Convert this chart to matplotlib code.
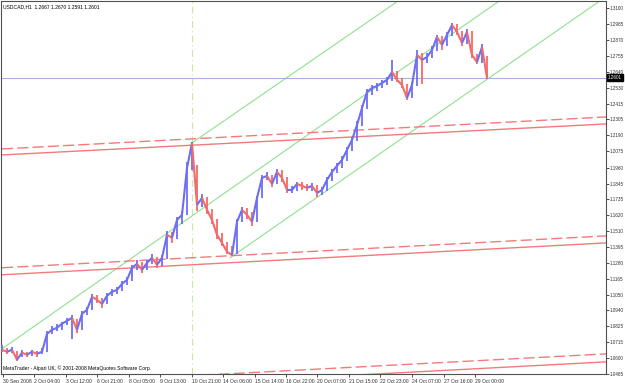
import matplotlib
matplotlib.use("Agg")
import matplotlib.pyplot as plt
import numpy as np

# ---- data ----
bar_step = 5
closes = [1.0658, 1.0644, 1.0658, 1.0587, 1.0637, 1.0622, 1.0644, 1.0629, 1.0644, 1.0772,
          1.0801, 1.0815, 1.0844, 1.0865, 1.0886, 1.0801, 1.0915, 1.0944, 1.1036, 1.1015,
          1.0986, 1.1044, 1.1072, 1.1086, 1.1129, 1.1158, 1.1243, 1.1272, 1.1229, 1.1279,
          1.1315, 1.1265, 1.1315, 1.1479, 1.1458, 1.1586, 1.1622, 1.1957, 1.2136, 1.1693,
          1.1743, 1.1658, 1.1586, 1.1479, 1.1422, 1.1358, 1.1336, 1.1572, 1.1658, 1.1622,
          1.1572, 1.1743, 1.1886, 1.1900, 1.1843, 1.1929, 1.1886, 1.1800, 1.1800, 1.1843,
          1.1829, 1.1815, 1.1829, 1.1779, 1.1800, 1.1872, 1.1929, 1.1972, 1.2015, 1.2086,
          1.2157, 1.2264, 1.2386, 1.2500, 1.2529, 1.2543, 1.2564, 1.2586, 1.2643, 1.2586,
          1.2550, 1.2457, 1.2550, 1.2764, 1.2729, 1.2750, 1.2800, 1.2893, 1.2836, 1.2907,
          1.2978, 1.2929, 1.2850, 1.2929, 1.2764, 1.2714, 1.2821, 1.2601]
highs = [1.0690, 1.0672, 1.0680, 1.0650, 1.0655, 1.0645, 1.0660, 1.0652, 1.0668, 1.0790,
         1.0825, 1.0840, 1.0860, 1.0885, 1.0905, 1.0880, 1.0935, 1.0965, 1.1060, 1.1050,
         1.1030, 1.1065, 1.1090, 1.1110, 1.1150, 1.1180, 1.1265, 1.1300, 1.1285, 1.1300,
         1.1340, 1.1320, 1.1335, 1.1510, 1.1500, 1.1610, 1.1650, 1.2000, 1.2140, 1.1980,
         1.1770, 1.1750, 1.1665, 1.1590, 1.1490, 1.1430, 1.1400, 1.1590, 1.1680, 1.1670,
         1.1640, 1.1760, 1.1910, 1.1930, 1.1905, 1.1950, 1.1940, 1.1890, 1.1830, 1.1860,
         1.1860, 1.1845, 1.1850, 1.1835, 1.1820, 1.1890, 1.1950, 1.1995, 1.2040, 1.2110,
         1.2180, 1.2290, 1.2410, 1.2520, 1.2550, 1.2565, 1.2585, 1.2610, 1.2729, 1.2650,
         1.2600, 1.2560, 1.2570, 1.2800, 1.2775, 1.2780, 1.2830, 1.2910, 1.2900, 1.2930,
         1.2993, 1.2985, 1.2935, 1.2950, 1.2935, 1.2770, 1.2840, 1.2760]
lows = [1.0640, 1.0630, 1.0636, 1.0575, 1.0610, 1.0605, 1.0615, 1.0610, 1.0625, 1.0640,
        1.0770, 1.0790, 1.0800, 1.0835, 1.0735, 1.0780, 1.0800, 1.0910, 1.0940, 1.0995,
        1.0960, 1.0985, 1.1040, 1.1060, 1.1080, 1.1120, 1.1150, 1.1230, 1.1210, 1.1225,
        1.1270, 1.1245, 1.1260, 1.1310, 1.1420, 1.1450, 1.1560, 1.1620, 1.1940, 1.1650,
        1.1680, 1.1630, 1.1560, 1.1450, 1.1400, 1.1340, 1.1330, 1.1340, 1.1570, 1.1590,
        1.1540, 1.1570, 1.1740, 1.1870, 1.1820, 1.1840, 1.1860, 1.1780, 1.1775, 1.1790,
        1.1800, 1.1790, 1.1795, 1.1750, 1.1765, 1.1795, 1.1865, 1.1920, 1.1960, 1.2010,
        1.2080, 1.2150, 1.2260, 1.2380, 1.2480, 1.2505, 1.2525, 1.2550, 1.2580, 1.2570,
        1.2530, 1.2443, 1.2455, 1.2545, 1.2560, 1.2710, 1.2740, 1.2790, 1.2800, 1.2830,
        1.2900, 1.2910, 1.2830, 1.2845, 1.2740, 1.2700, 1.2710, 1.2591]
bars = np.arange(len(closes)) * bar_step

current_price = 1.2601
separator_bar = 190

# trend lines: (bar0, price0, bar1, price1)
green_lines = [(0, 1.0665, 605, 1.3689),
               (190, 1.2136, 605, 1.4178),
               (228, 1.1315, 605, 1.3186)]
red_solid = [(0, 1.2050, 605, 1.2272),
             (0, 1.1194, 605, 1.1422),
             (0, 1.0344, 605, 1.0572)]
red_dashed = [(0, 1.2093, 605, 1.2322),
              (0, 1.1244, 605, 1.1472),
              (0, 1.0401, 605, 1.0629)]

y_ticks = [1.3100, 1.2985, 1.2870, 1.2755, 1.2640, 1.2530, 1.2415, 1.2305, 1.2190,
           1.2075, 1.1960, 1.1845, 1.1735, 1.1620, 1.1510, 1.1395, 1.1280, 1.1165,
           1.1050, 1.0940, 1.0825, 1.0715, 1.0600, 1.0485]
x_tick_pos = [1, 32, 64, 95, 127, 158, 190, 221, 253, 284, 315, 347, 378, 410, 442, 473]
x_tick_labels = ["30 Sep 2008", "2 Oct 04:00", "3 Oct 12:00", "6 Oct 21:00", "8 Oct 05:00",
                 "9 Oct 13:00", "10 Oct 21:00", "14 Oct 06:00", "15 Oct 14:00",
                 "16 Oct 22:00", "20 Oct 07:00", "21 Oct 15:00", "22 Oct 23:00",
                 "24 Oct 07:00", "27 Oct 16:00", "29 Oct 00:00"]

title_text = "USDCAD,H1  1.2667 1.2670 1.2591 1.2601"
copyright_text = "MetaTrader - Alpari UK, \u00a9 2001-2008 MetaQuotes Software Corp."

# ---- figure ----
W, H = 625, 383
fig = plt.figure(figsize=(W / 100, H / 100), dpi=100)
fig.patch.set_facecolor("white")
left_px, right_px, top_px, bot_px = 1, 606, 1, 374
ax = fig.add_axes([left_px / W, (H - bot_px) / H, (right_px - left_px) / W, (bot_px - top_px) / H])
ax.set_facecolor("white")
ax.set_xlim(-1, 604)
ax.set_ylim(1.04867, 1.31500)

FS = 3.6
YFS = 3.3
FONT = dict(family="Liberation Sans", size=FS)
YFONT = dict(family="Liberation Sans", size=YFS)
BLUE = "#6e6ef2"
RED = "#f26a6a"

for (x0, p0, x1, p1) in green_lines:
    ax.plot([x0, x1], [p0, p1], color="#8fe08f", lw=0.8, zorder=2)
for (x0, p0, x1, p1) in red_solid:
    ax.plot([x0, x1], [p0, p1], color="#f47a7a", lw=1.0, zorder=2)
for (x0, p0, x1, p1) in red_dashed:
    ax.plot([x0, x1], [p0, p1], color="#f47a7a", lw=1.0, ls=(0, (8, 3)), zorder=2)
ax.axhline(current_price, color="#a8b0e0", lw=0.8, zorder=2)
ax.axvline(separator_bar, color="#c8e8a0", lw=0.8, ls=(0, (6, 3, 1, 3)), zorder=1)

# price bars
for i in range(len(closes)):
    up = i == 0 or closes[i] >= closes[i - 1]
    col = BLUE if up else RED
    ax.vlines(bars[i], lows[i], highs[i], color=col, lw=1.3, zorder=3)
    if i > 0:
        ax.plot(bars[i - 1:i + 1], closes[i - 1:i + 1], color=col, lw=1.5,
                solid_capstyle="butt", zorder=3)

for s in ax.spines.values():
    s.set_color("#505050")
    s.set_linewidth(0.8)
ax.yaxis.tick_right()
ax.set_yticks(y_ticks)
ax.set_yticklabels([f"{v:.4f}" for v in y_ticks], fontdict=YFONT)
ax.tick_params(axis="y", direction="out", length=2.0, width=0.6, pad=0.6, colors="#303030")
ax.set_xticks(x_tick_pos)
ax.set_xticklabels(x_tick_labels, fontdict=FONT)
ax.tick_params(axis="x", direction="out", length=2.5, width=0.6, pad=1.0, colors="#303030")
for lab in ax.get_xticklabels():
    lab.set_horizontalalignment("left")

ax.annotate(f"{current_price:.4f}", xy=(1.0, current_price), xycoords=("axes fraction", "data"),
            xytext=(1.2, 0), textcoords="offset points", ha="left", va="center",
            color="white", fontsize=YFS, family="Liberation Sans",
            bbox=dict(boxstyle="square,pad=0.2", fc="black", ec="black"), zorder=10)

ax.text(0.004, 0.992, title_text, transform=ax.transAxes, ha="left", va="top",
        fontdict=FONT, color="black")
ax.text(0.004, 0.008, copyright_text, transform=ax.transAxes, ha="left", va="bottom",
        fontdict=FONT, color="black")

fig.savefig("out.png", dpi=100, facecolor="white")
